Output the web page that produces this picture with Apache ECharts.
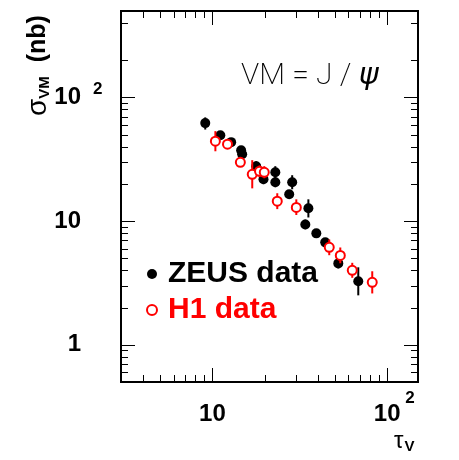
<!DOCTYPE html>
<html><head><meta charset="utf-8">
<script src="https://cdn.jsdelivr.net/npm/echarts@6/dist/echarts.min.js"></script>
<style>html,body{margin:0;padding:0;background:#fff}#c{width:459px;height:460px}</style>
</head><body><div id="c"></div>
<script>
// ZEUS data (filled black)
const zeusTau   = [9.1, 11.1, 12.8, 14.6, 14.8, 17.8, 19.6, 22.9, 22.9, 28.6, 27.5, 35.4, 34.0, 39.3, 44.2, 52.5, 68.3];
const zeusSigma = [62, 49.5, 43.5, 37.4, 34.7, 27.8, 21.8, 24.8, 20.6, 20.6, 16.5, 12.7, 9.4, 7.96, 6.73, 4.55, 3.26];
const zeusLow   = [55, 45.9, 40.3, 34.7, 32.2, 25.3, 19.9, 22.2, 18.8, 18.1, 15.3, 10.7, 8.6, 7.5, 6.4, 4.15, 2.51];
const zeusHigh  = [69, 53.4, 46.9, 40.3, 37.5, 30.5, 24.0, 27.8, 22.6, 23.5, 17.8, 15.0, 10.3, 8.4, 7.1, 4.99, 4.23];
// H1 data (open red)
const h1Tau   = [10.4, 12.2, 14.45, 16.9, 18.6, 19.8, 23.5, 30.2, 46.6, 53.9, 63.1, 82.1];
const h1Sigma = [44.3, 41.9, 29.9, 23.9, 25.3, 24.8, 14.5, 12.9, 6.14, 5.28, 4.0, 3.2];
const h1Low   = [36.7, 39.7, 27.8, 18.4, 22.7, 22.2, 12.5, 11.2, 5.3, 4.56, 3.48, 2.6];
const h1High  = [53.4, 44.2, 32.2, 31.1, 28.2, 27.8, 16.8, 15.0, 7.1, 6.12, 4.6, 3.93];
// axes
const xMin = 3, xMax = 150, yMin = 0.5, yMax = 500;
const xMajorTicks = [10, 100];
const xMinorTicks = [3, 4, 5, 6, 7, 8, 9, 20, 30, 40, 50, 60, 70, 80, 90];
const yMajorTicks = [1, 10, 100];
const yMinorTicks = [0.6, 0.7, 0.8, 0.9, 2, 3, 4, 5, 6, 7, 8, 9, 20, 30, 40, 50, 60, 70, 80, 90, 200, 400];
const xTickLabels = {1: '10', 2: '10'};
const yTickLabels = {0: '1', 1: '10', 2: '10'};
const supLabels = {2: '2'};

function decade(v) {
  const l = Math.log10(v), r = Math.round(l);
  return Math.abs(l - r) < 1e-6 ? r : null;
}
const FONT = 'Liberation Sans, Arial, Helvetica, sans-serif';

const chart = echarts.init(document.getElementById('c'), null, {renderer: 'canvas'});

function tickRenderer(isX) {
  return function (params, api) {
    const cs = params.coordSys;
    const v = api.value(isX ? 0 : 1);
    const len = api.value(2) ? 14 : 7;
    const st = {stroke: '#000', lineWidth: 1};
    if (isX) {
      const px = Math.round(api.coord([v, yMin])[0]) + 0.5;
      return {type: 'group', children: [
        {type: 'line', shape: {x1: px, y1: cs.y + cs.height, x2: px, y2: cs.y + cs.height - len}, style: st},
        {type: 'line', shape: {x1: px, y1: cs.y, x2: px, y2: cs.y + len}, style: st}
      ]};
    } else {
      const py = Math.round(api.coord([xMin, v])[1]) + 0.5;
      return {type: 'group', children: [
        {type: 'line', shape: {x1: cs.x, y1: py, x2: cs.x + len, y2: py}, style: st},
        {type: 'line', shape: {x1: cs.x + cs.width, y1: py, x2: cs.x + cs.width - len, y2: py}, style: st}
      ]};
    }
  };
}
function errRenderer(color) {
  return function (params, api) {
    const p1 = api.coord([api.value(0), api.value(1)]);
    const p2 = api.coord([api.value(0), api.value(2)]);
    return {type: 'line', shape: {x1: p1[0], y1: p1[1], x2: p2[0], y2: p2[1]},
      style: {stroke: color, lineWidth: 2}};
  };
}

const xTickData = xMajorTicks.map(v => [v, 1, 1]).concat(xMinorTicks.map(v => [v, 1, 0]));
const yTickData = yMajorTicks.map(v => [10, v, 1]).concat(yMinorTicks.map(v => [10, v, 0]));

const baseX = {type: 'log', logBase: 10, min: xMin, max: xMax, gridIndex: 0, position: 'bottom',
  axisLine: {show: false}, axisTick: {show: false}, splitLine: {show: false}, minorTick: {show: false}};
const baseY = {type: 'log', logBase: 10, min: yMin, max: yMax, gridIndex: 0, position: 'left',
  axisLine: {show: false}, axisTick: {show: false}, splitLine: {show: false}, minorTick: {show: false}};

chart.setOption({
  backgroundColor: '#fff',
  animation: false,
  grid: {left: 121, right: 41, top: 11, bottom: 78, show: true, borderColor: '#000', borderWidth: 2,
    backgroundColor: 'transparent', containLabel: false, outerBoundsMode: 'none'},
  xAxis: [
    Object.assign({}, baseX, {axisLabel: {
      margin: 20, color: '#000', fontFamily: FONT, fontWeight: 'bold', fontSize: 24,
      showMinLabel: false, showMaxLabel: false,
      formatter: v => { const d = decade(v); return d !== null && xTickLabels[d] ? xTickLabels[d] : ''; }
    }}),
    Object.assign({}, baseX, {axisLabel: {
      margin: 8, color: '#000', fontFamily: FONT, fontWeight: 'bold', fontSize: 17, align: 'left',
      padding: [0, 0, 0, 18],
      showMinLabel: false, showMaxLabel: false,
      formatter: v => { const d = decade(v); return d !== null && supLabels[d] ? supLabels[d] : ''; }
    }})
  ],
  yAxis: [
    Object.assign({}, baseY, {axisLabel: {
      margin: 40, color: '#000', fontFamily: FONT, fontWeight: 'bold', fontSize: 24,
      padding: [5, 0, 0, 0],
      showMinLabel: false, showMaxLabel: false,
      formatter: v => { const d = decade(v); return d !== null && yTickLabels[d] ? yTickLabels[d] : ''; }
    }}),
    Object.assign({}, baseY, {axisLabel: {
      margin: 28, color: '#000', fontFamily: FONT, fontWeight: 'bold', fontSize: 17, align: 'left',
      verticalAlign: 'bottom',
      showMinLabel: false, showMaxLabel: false,
      formatter: v => { const d = decade(v); return d !== null && supLabels[d] ? supLabels[d] : ''; }
    }})
  ],
  legend: {
    orient: 'vertical', left: 141, top: 254, itemWidth: 22, itemHeight: 10, itemGap: 6,
    selectedMode: false,
    textStyle: {fontFamily: FONT, fontWeight: 'bold', fontSize: 30, lineHeight: 30},
    data: [
      {name: 'ZEUS data', textStyle: {color: '#000'}},
      {name: 'H1 data', textStyle: {color: '#ff0000'}}
    ]
  },
  graphic: [
    {type: 'text', x: 241, y: 76, style: {text: '{a|VM = J / }{p|ψ}', verticalAlign: 'middle', align: 'left',
      rich: {a: {fontFamily: 'Roboto, Lato, sans-serif', fontWeight: 200, fontSize: 30, color: '#111'},
             p: {fontFamily: 'DejaVu Sans, sans-serif', fontStyle: 'italic', fontWeight: 'normal', fontSize: 30, color: '#111'}}}},
    {type: 'text', x: 394, y: 441, style: {
      text: '{t|τ}{v|V}', verticalAlign: 'middle', align: 'left',
      rich: {t: {fontFamily: FONT, fontSize: 24, color: '#000'},
             v: {fontFamily: FONT, fontWeight: 'bold', fontSize: 15, color: '#000', padding: [12, 0, 0, 1]}}}},
    {type: 'text', x: 38, y: 116, rotation: Math.PI / 2, style: {
      text: '{s|σ}{v|VM}{n|  (nb)}', verticalAlign: 'middle', align: 'left',
      rich: {s: {fontFamily: FONT, fontSize: 28, color: '#000'},
             v: {fontFamily: FONT, fontWeight: 'bold', fontSize: 15, color: '#000', padding: [14, 0, 0, 0]},
             n: {fontFamily: FONT, fontWeight: 'bold', fontSize: 25, color: '#000'}}}}
  ],
  series: [
    {type: 'custom', name: 'xticks', renderItem: tickRenderer(true), data: xTickData, encode: {x: 0, y: 1}, clip: false, silent: true, z: 1},
    {type: 'custom', name: 'yticks', renderItem: tickRenderer(false), data: yTickData, encode: {x: 0, y: 1}, clip: false, silent: true, z: 1},
    {type: 'custom', name: 'zeusErr', renderItem: errRenderer('#000'),
      data: zeusTau.map((t, i) => [t, zeusLow[i], zeusHigh[i]]), encode: {x: 0, y: [1, 2]}, z: 2, silent: true},
    {type: 'scatter', name: 'ZEUS data', symbol: 'circle', symbolSize: 10,
      itemStyle: {color: '#000', opacity: 1}, data: zeusTau.map((t, i) => [t, zeusSigma[i]]), z: 3},
    {type: 'custom', name: 'h1Err', renderItem: errRenderer('#ff0000'),
      data: h1Tau.map((t, i) => [t, h1Low[i], h1High[i]]), encode: {x: 0, y: [1, 2]}, z: 4, silent: true},
    {type: 'scatter', name: 'H1 data', symbol: 'circle', symbolSize: 9,
      itemStyle: {color: '#fff', borderColor: '#ff0000', borderWidth: 2, opacity: 1},
      data: h1Tau.map((t, i) => [t, h1Sigma[i]]), z: 5}
  ]
});
</script></body></html>
